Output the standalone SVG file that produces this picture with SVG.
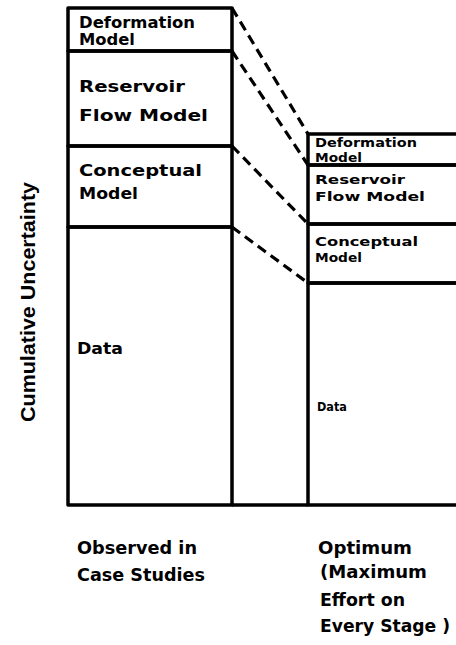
<svg xmlns="http://www.w3.org/2000/svg" width="456" height="645" viewBox="0 0 456 645">
<style>
.box{fill:none;stroke:#000;stroke-width:3.5;stroke-linejoin:round}
.dash{fill:none;stroke:#000;stroke-width:3.2;stroke-dasharray:10 6}
.t{font-family:"DejaVu Sans","Liberation Sans",sans-serif;font-weight:bold;fill:#000}
.big{font-size:16px}
.def{font-size:15px}
.sm{font-size:12.5px}
.lab{font-size:18px}
.ax{font-family:"Liberation Sans",Arial,sans-serif;font-weight:bold;font-size:20px;fill:#000}
</style>
<rect width="456" height="645" fill="#fff"/>
<g id="left-deformation">
<rect class="box" x="68" y="8" width="164" height="43"/>
<text class="t def" x="79" y="28" textLength="116" lengthAdjust="spacingAndGlyphs">Deformation</text>
<text class="t def" x="79" y="45" textLength="56" lengthAdjust="spacingAndGlyphs">Model</text>
</g>
<g id="left-reservoir">
<rect class="box" x="68" y="51" width="164" height="95"/>
<text class="t big" x="79" y="92" textLength="106" lengthAdjust="spacingAndGlyphs">Reservoir</text>
<text class="t big" x="79" y="121" textLength="129" lengthAdjust="spacingAndGlyphs">Flow Model</text>
</g>
<g id="left-conceptual">
<rect class="box" x="68" y="146" width="164" height="81"/>
<text class="t big" x="79" y="176" textLength="123" lengthAdjust="spacingAndGlyphs">Conceptual</text>
<text class="t big" x="79" y="199" textLength="59" lengthAdjust="spacingAndGlyphs">Model</text>
</g>
<g id="left-data">
<rect class="box" x="68" y="227" width="164" height="278"/>
<text class="t big" x="77" y="354" textLength="46" lengthAdjust="spacingAndGlyphs">Data</text>
</g>
<g id="right-deformation">
<rect class="box" x="308" y="134" width="152" height="31"/>
<text class="t sm" x="315" y="147" textLength="102" lengthAdjust="spacingAndGlyphs">Deformation</text>
<text class="t sm" x="315" y="162" textLength="47" lengthAdjust="spacingAndGlyphs">Model</text>
</g>
<g id="right-reservoir">
<rect class="box" x="308" y="165" width="152" height="59"/>
<text class="t sm" x="315" y="184" textLength="90" lengthAdjust="spacingAndGlyphs">Reservoir</text>
<text class="t sm" x="315" y="201" textLength="110" lengthAdjust="spacingAndGlyphs">Flow Model</text>
</g>
<g id="right-conceptual">
<rect class="box" x="308" y="224" width="152" height="59"/>
<text class="t sm" x="315" y="246" textLength="103" lengthAdjust="spacingAndGlyphs">Conceptual</text>
<text class="t sm" x="315" y="262" textLength="47" lengthAdjust="spacingAndGlyphs">Model</text>
</g>
<g id="right-data">
<rect class="box" x="308" y="283" width="152" height="222"/>
<text class="t sm" x="317" y="411" textLength="30" lengthAdjust="spacingAndGlyphs">Data</text>
</g>
<g id="connectors">
<line class="box" x1="232" y1="505" x2="308" y2="505"/>
<line class="dash" x1="232" y1="8" x2="308" y2="134"/>
<line class="dash" x1="232" y1="51" x2="308" y2="165"/>
<line class="dash" x1="232" y1="146" x2="308" y2="224"/>
<line class="dash" x1="232" y1="227" x2="308" y2="283"/>
</g>
<g id="axis-label">
<text class="ax" transform="translate(35,422) rotate(-90)" x="0" y="0" textLength="240" lengthAdjust="spacingAndGlyphs">Cumulative Uncertainty</text>
</g>
<g id="label-observed">
<text class="t lab" x="77" y="554" textLength="120" lengthAdjust="spacingAndGlyphs">Observed in</text>
<text class="t lab" x="77" y="581" textLength="128" lengthAdjust="spacingAndGlyphs">Case Studies</text>
</g>
<g id="label-optimum">
<text class="t lab" x="318" y="554" textLength="94" lengthAdjust="spacingAndGlyphs">Optimum</text>
<text class="t lab" x="320" y="578" textLength="107" lengthAdjust="spacingAndGlyphs">(Maximum</text>
<text class="t lab" x="320" y="606" textLength="85" lengthAdjust="spacingAndGlyphs">Effort on</text>
<text class="t lab" x="320" y="632" textLength="130" lengthAdjust="spacingAndGlyphs">Every Stage )</text>
</g>
</svg>
